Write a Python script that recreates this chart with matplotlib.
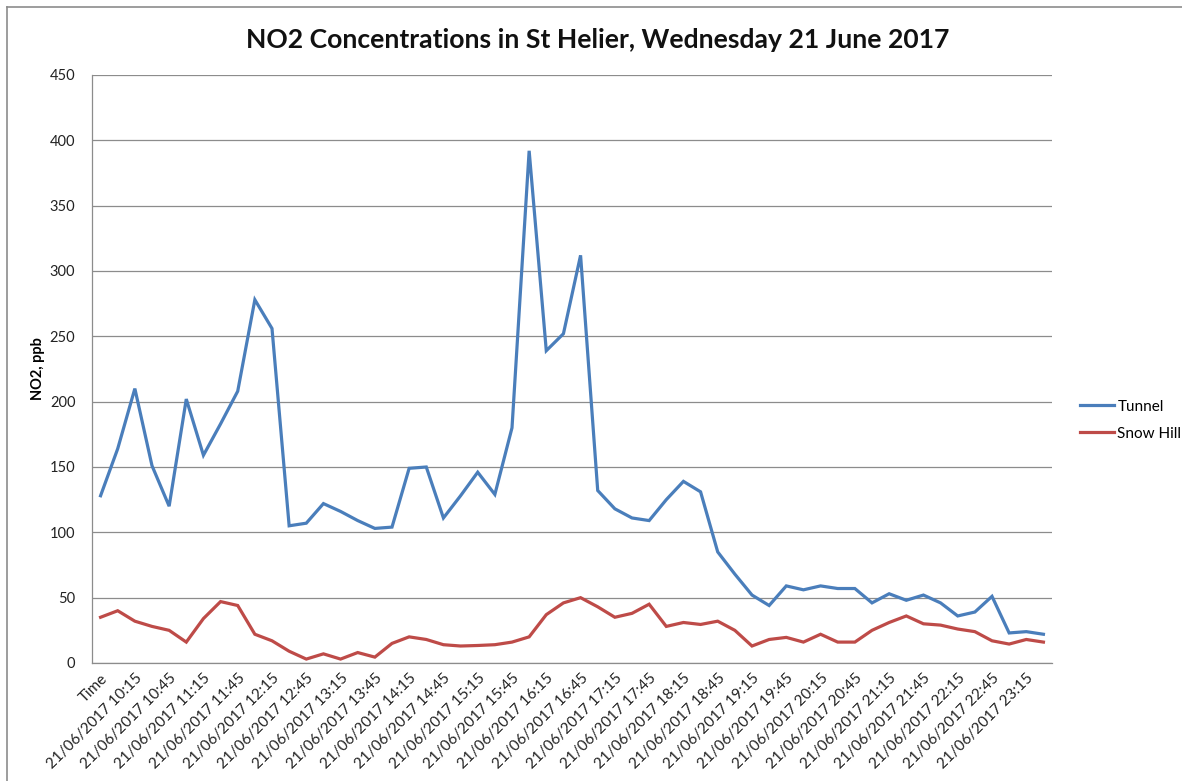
import matplotlib
matplotlib.use("Agg")
import matplotlib.pyplot as plt
from matplotlib.lines import Line2D

plt.rcParams['font.family'] = ['Lato', 'DejaVu Sans']

title = "NO2 Concentrations in St Helier, Wednesday 21 June 2017"
ylabel = "NO2, ppb"

date_prefix = "21/06/2017 "
times = ["10:00", "10:15", "10:30", "10:45", "11:00", "11:15", "11:30", "11:45",
         "12:00", "12:15", "12:30", "12:45", "13:00", "13:15", "13:30", "13:45",
         "14:00", "14:15", "14:30", "14:45", "15:00", "15:15", "15:30", "15:45",
         "16:00", "16:15", "16:30", "16:45", "17:00", "17:15", "17:30", "17:45",
         "18:00", "18:15", "18:30", "18:45", "19:00", "19:15", "19:30", "19:45",
         "20:00", "20:15", "20:30", "20:45", "21:00", "21:15", "21:30", "21:45",
         "22:00", "22:15", "22:30", "22:45", "23:00", "23:15", "23:30"]
categories = ["Time"] + [date_prefix + t for t in times]

tunnel = [128, 164, 210, 151, 120, 202, 159, 183, 208, 278,
          256, 105, 107, 122, 116, 109, 103, 104, 149, 150,
          111, 128, 146, 129, 180, 392, 239, 252, 312, 132,
          118, 111, 109, 125, 139, 131, 85, 68, 52, 44,
          59, 56, 59, 57, 57, 46, 53, 48, 52, 46,
          36, 39, 51, 23, 24, 22]
snow_hill = [35, 40, 32, 28, 25, 16, 34, 47, 44, 22,
             17, 9, 3, 7, 3, 8, 4.5, 15, 20, 18,
             14, 13, 13.4, 14, 16, 20, 37, 46, 50, 43,
             35, 38, 45, 28, 31, 29.5, 32, 25, 13, 18,
             19.6, 16, 22, 16, 16, 25, 31, 36, 30, 29,
             26, 24, 17, 14.5, 18, 16]
series_names = ["Tunnel", "Snow Hill"]
series_colors = ["#4A7EBB", "#BE4B48"]

yticks = [0, 50, 100, 150, 200, 250, 300, 350, 400, 450]

W, H = 1182, 781
fig = plt.figure(figsize=(W / 100, H / 100), dpi=100)
ax = fig.add_axes([92 / W, 1 - 663 / H, (1052 - 92) / W, (663 - 75) / H])

x = list(range(len(categories)))
ax.plot(x, tunnel, color=series_colors[0], lw=2.3, label=series_names[0],
        solid_joinstyle='miter')
ax.plot(x, snow_hill, color=series_colors[1], lw=2.3, label=series_names[1],
        solid_joinstyle='miter')

ax.set_xlim(-0.5, len(categories) - 0.5)
ax.set_ylim(0, 450)
ax.set_yticks(yticks)
ax.set_yticklabels([str(v) for v in yticks], fontsize=10.5, color='#222222')
ax.set_xticks(x[::2])
ax.set_xticklabels(categories[::2], rotation=45, ha='right', va='top',
                   rotation_mode='anchor', fontsize=11, color='#222222')
ax.tick_params(axis='both', length=0)
ax.tick_params(axis='y', pad=12)
ax.tick_params(axis='x', pad=6)

ax.grid(axis='y', color='#8C8C8C', lw=0.9)
ax.set_axisbelow(True)
for s in ['top', 'right']:
    ax.spines[s].set_visible(False)
for s in ['left', 'bottom']:
    ax.spines[s].set_color('#8C8C8C')
    ax.spines[s].set_linewidth(0.9)

ax.set_ylabel(ylabel, fontsize=10.5, fontweight='bold')
ax.yaxis.set_label_coords(-47 / (1052 - 92), 0.5)

fig.text(598 / W, 1 - 40 / H, title, ha='center', va='center',
         fontsize=19.1, fontweight='bold', color='#111111')

leg = ax.legend(loc='center left', bbox_to_anchor=(1 + 28 / 960, 0.413), frameon=False,
                fontsize=11, handlelength=2.2, handletextpad=0.25,
                labelspacing=0.85, borderpad=0, borderaxespad=0)

# outer chart border
fig.add_artist(Line2D([7 / W, 7 / W], [0, 1 - 7 / H], transform=fig.transFigure,
                      color='#8C8C8C', lw=1.2))
fig.add_artist(Line2D([7 / W, 1], [1 - 7 / H, 1 - 7 / H], transform=fig.transFigure,
                      color='#8C8C8C', lw=1.2))

fig.savefig("out.png", dpi=100)
